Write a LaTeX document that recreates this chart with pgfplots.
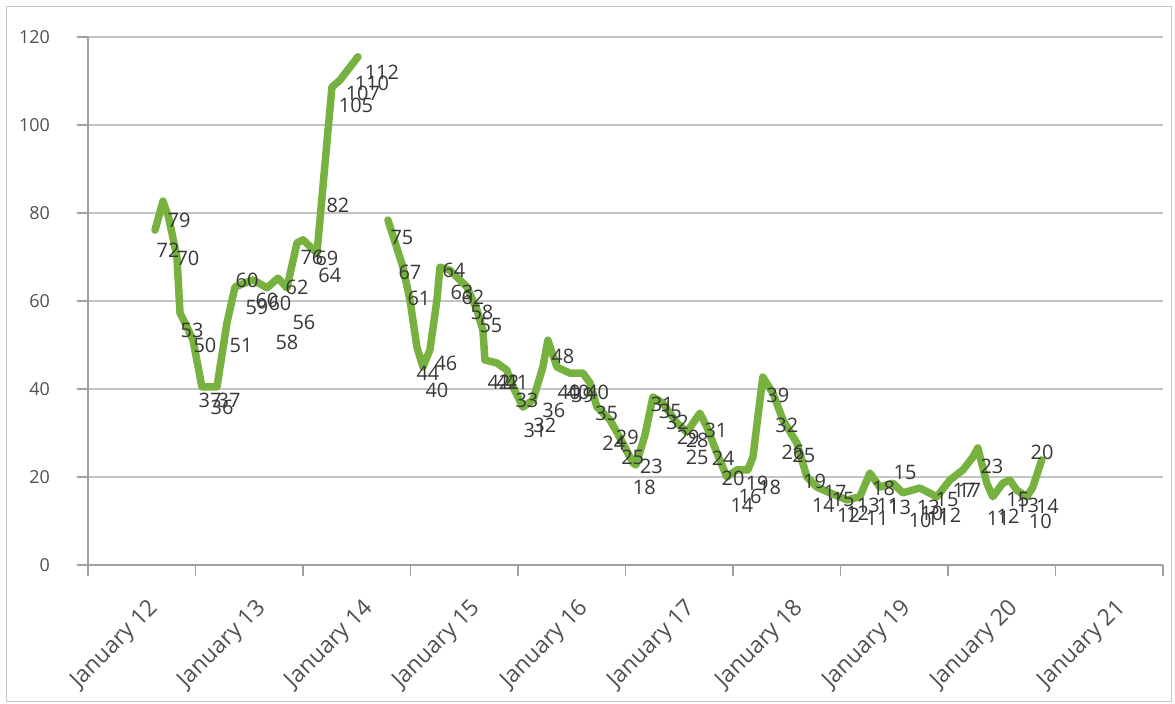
\documentclass[border=0pt]{standalone}
\usepackage{fontspec}
\setmainfont{Open Sans}
\usepackage{pgfplots}
\pgfplotsset{compat=1.18}
\usepackage{pgfplotstable}

\definecolor{linegreen}{RGB}{119,178,64}
\definecolor{gridgray}{RGB}{196,196,196}
\definecolor{axisgray}{RGB}{160,160,160}
\definecolor{ticktext}{RGB}{80,80,80}
\definecolor{labeltext}{RGB}{55,55,55}

% monthly series, x = months since January 2012
\pgfplotstableread{
m v
7.48 76.1
8.37 82.7
9.0 79.0
9.93 70.0
10.27 57.3
11.05 54.1
11.72 51.1
12.72 40.5
14.40 40.5
15.51 55.0
16.41 63.2
18.42 64.8
19.98 63.0
21.21 65.2
22.21 63.0
23.33 73.2
24.00 73.9
25.56 70.9
27.23 108.6
28.13 110.2
30.13 115.5
31.50 nan
33.48 78.4
35.16 67.7
35.94 60.2
36.72 49.5
37.39 45.0
38.17 48.9
38.95 60.2
39.29 67.7
40.40 67.0
42.30 63.2
43.42 58.0
44.08 53.4
44.31 46.6
45.65 45.9
46.76 44.3
47.43 40.5
48.55 35.9
49.67 37.5
50.78 45.0
51.34 51.1
52.34 45.0
53.79 43.6
55.25 43.6
56.03 41.4
56.81 35.9
58.26 33.0
59.71 27.7
60.83 23.2
61.16 22.7
62.17 29.5
63.06 38.2
64.17 36.8
65.74 32.3
66.85 30.2
68.30 34.5
69.08 31.4
70.20 25.5
71.32 20.0
72.43 21.6
73.66 21.6
74.22 24.5
75.33 42.7
76.45 39.1
77.57 33.0
79.13 27.7
80.25 20.0
81.36 17.7
82.81 16.4
84.71 14.8
86.16 15.5
87.28 20.9
88.39 17.7
89.84 18.6
90.96 16.4
92.86 17.5
94.75 15.5
96.21 19.3
97.66 21.6
98.77 24.5
99.33 26.6
100.33 18.6
101.00 15.5
102.12 18.6
102.90 19.3
103.68 17.0
104.80 15.5
105.47 17.7
106.47 23.9
}\linedata

% data labels: position (x, y) and text
\pgfplotstableread{
m y lab
8.93 71.6 72
10.16 78.4 79
11.16 69.8 70
11.61 53.4 53
13.06 50.0 50
13.62 37.5 37
14.96 35.9 36
15.74 37.5 37
17.08 50.0 51
17.75 64.8 60
18.86 58.6 59
19.98 60.2 60
21.43 59.5 60
22.21 50.5 58
23.33 63.2 62
24.11 55.2 56
25.00 69.8 76
26.67 69.6 69
27.00 65.9 64
27.90 81.8 82
29.91 104.5 105
30.69 107.3 107
31.70 109.5 110
32.81 112.0 112
35.04 74.5 75
35.94 66.6 67
36.94 60.7 61
37.95 43.6 44
38.95 39.8 40
39.96 45.9 46
40.85 67.0 64
41.74 62.0 63
42.97 60.9 62
43.97 57.5 58
44.98 54.5 55
45.87 41.6 42
46.88 41.6 42
47.88 41.4 41
49.00 37.5 33
49.90 30.7 31
51.00 31.8 32
52.00 35.2 36
53.00 47.3 48
53.70 39.3 40
54.70 39.3 40
55.20 38.6 39
56.90 39.3 40
57.90 34.5 35
58.70 27.7 24
60.20 28.9 29
60.80 24.5 25
62.10 17.7 18
62.90 22.3 23
64.10 36.4 31
65.00 34.8 35
65.80 32.5 32
67.00 28.9 29
68.00 28.4 28
68.00 24.5 25
70.10 30.7 31
70.90 24.3 24
72.00 19.8 20
73.00 13.6 14
73.90 15.5 16
74.70 18.6 19
76.10 17.7 18
77.00 38.6 39
78.00 31.8 32
78.70 25.5 26
79.90 25.0 25
81.10 18.9 19
82.10 13.6 14
83.40 16.4 17
84.30 14.8 15
84.90 11.4 12
85.90 11.8 12
87.10 13.6 13
88.10 10.7 11
88.80 17.5 18
89.30 13.6 11
90.60 13.0 13
91.20 21.1 15
92.90 10.2 10
93.80 13.2 13
94.20 11.8 10
94.90 10.7 11
95.90 14.8 15
96.20 11.4 12
97.80 17.0 17
98.40 17.0 17
100.90 22.3 23
101.60 10.7 11
102.70 11.1 12
103.80 14.8 15
104.90 13.6 13
106.30 10.0 10
107.10 13.4 14
106.50 25.7 20
}\labeldata

\begin{document}
\begin{tikzpicture}
\path[use as bounding box] (-88bp,-139bp) rectangle (1087bp,565bp);
\draw[gridgray, line width=1bp] (-81bp,558bp) rectangle (1083bp,-136bp);
\begin{axis}[
  scale only axis,
  width=1075bp, height=528bp,
  xmin=0, xmax=120, ymin=0, ymax=120,
  axis x line*=bottom, axis y line*=left,
  axis line style={draw=axisgray, line width=1.2bp},
  xtick={0,12,...,120}, xticklabels={},
  ytick={0,20,...,120},
  tick align=outside, major tick length=11bp,
  tick style={draw=axisgray, line width=1.2bp},
  ymajorgrids, grid style={draw=gridgray, line width=1.3bp},
  extra x ticks={6.6,18.6,30.6,42.6,54.6,66.6,78.6,90.6,102.6,114.6},
  extra x tick labels={January 12,January 13,January 14,January 15,January 16,January 17,January 18,January 19,January 20,January 21},
  extra x tick style={major tick length=0pt},
  xticklabel style={yshift=-32bp, rotate=45, anchor=north east, inner sep=0pt,
    font=\fontsize{23}{25}\selectfont, text=ticktext},
  yticklabel style={inner sep=0pt, xshift=-27bp,
    font=\fontsize{18}{20}\selectfont, text=ticktext},
  /pgf/number format/assume math mode=true,
  clip=false,
]
\addplot[color=linegreen, line width=7.5bp, line join=round, line cap=round,
  mark=none, unbounded coords=jump] table[x=m, y=v] {\linedata};
\addplot[only marks, mark=none,
  nodes near coords, point meta=explicit symbolic,
  nodes near coords style={anchor=center, inner sep=0pt,
    font=\fontsize{20}{22}\selectfont, text=labeltext}]
  table[x=m, y=y, meta=lab] {\labeldata};
\end{axis}
\end{tikzpicture}
\end{document}
